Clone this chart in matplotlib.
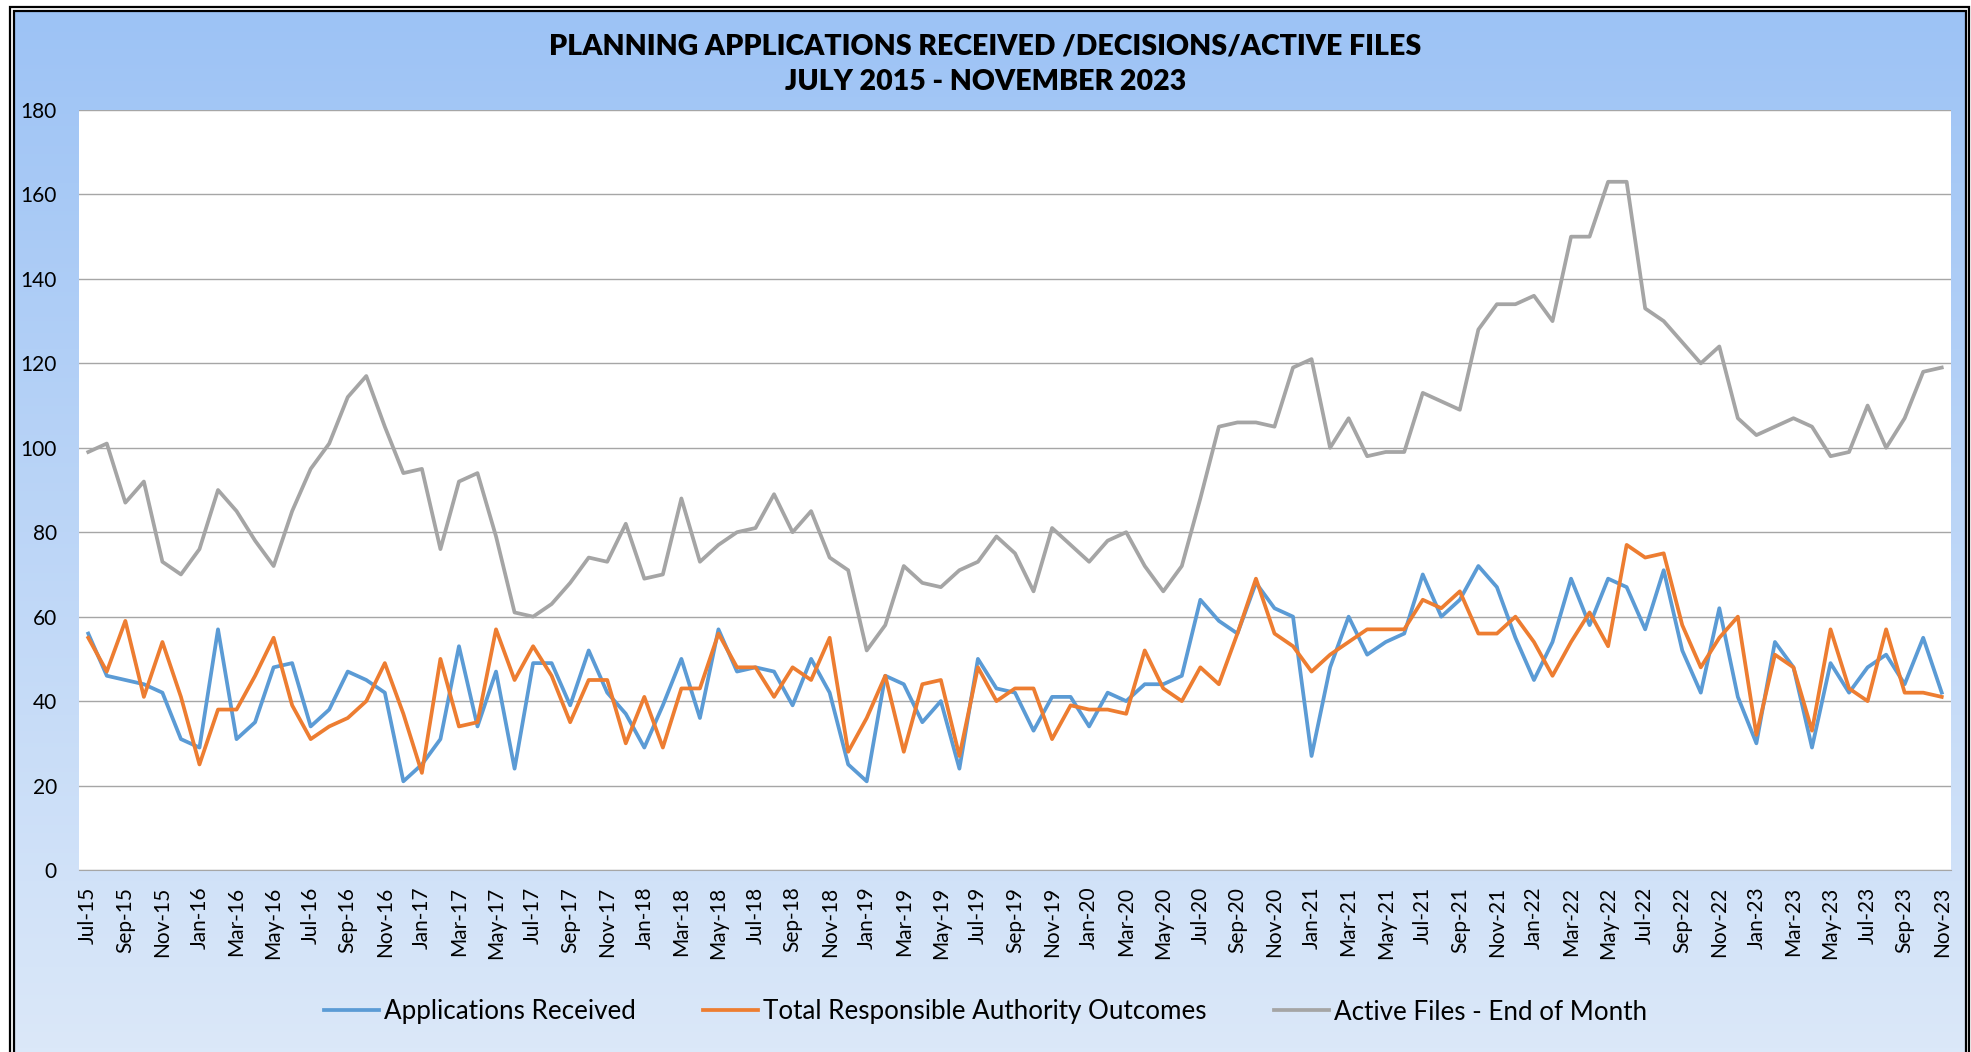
import numpy as np
import pandas as pd
import matplotlib
matplotlib.use('Agg')
import matplotlib.pyplot as plt
from matplotlib.patches import Rectangle
from matplotlib.colors import LinearSegmentedColormap

plt.rcParams['font.family'] = ['Lato', 'DejaVu Sans']

months = pd.date_range('2015-07-01', '2023-11-01', freq='MS')
month_labels = [m.strftime('%b-%y') for m in months]

applications = [56, 46, 45, 44, 42, 31, 29, 57, 31, 35, 48, 49, 34, 38, 47, 45,
                42, 21, 25, 31, 53, 34, 47, 24, 49, 49, 39, 52, 42, 37, 29, 39,
                50, 36, 57, 47, 48, 47, 39, 50, 42, 25, 21, 46, 44, 35, 40, 24,
                50, 43, 42, 33, 41, 41, 34, 42, 40, 44, 44, 46, 64, 59, 56, 68,
                62, 60, 27, 48, 60, 51, 54, 56, 70, 60, 64, 72, 67, 55, 45, 54,
                69, 58, 69, 67, 57, 71, 52, 42, 62, 41, 30, 54, 48, 29, 49, 42,
                48, 51, 44, 55, 42]
outcomes = [55, 47, 59, 41, 54, 41, 25, 38, 38, 46, 55, 39, 31, 34, 36, 40,
            49, 37, 23, 50, 34, 35, 57, 45, 53, 46, 35, 45, 45, 30, 41, 29,
            43, 43, 56, 48, 48, 41, 48, 45, 55, 28, 36, 46, 28, 44, 45, 27,
            48, 40, 43, 43, 31, 39, 38, 38, 37, 52, 43, 40, 48, 44, 56, 69,
            56, 53, 47, 51, 54, 57, 57, 57, 64, 62, 66, 56, 56, 60, 54, 46,
            54, 61, 53, 77, 74, 75, 58, 48, 55, 60, 32, 51, 48, 33, 57, 43,
            40, 57, 42, 42, 41]
active_files = [99, 101, 87, 92, 73, 70, 76, 90, 85, 78, 72, 85, 95, 101, 112, 117,
                105, 94, 95, 76, 92, 94, 79, 61, 60, 63, 68, 74, 73, 82, 69, 70,
                88, 73, 77, 80, 81, 89, 80, 85, 74, 71, 52, 58, 72, 68, 67, 71,
                73, 79, 75, 66, 81, 77, 73, 78, 80, 72, 66, 72, 88, 105, 106, 106,
                105, 119, 121, 100, 107, 98, 99, 99, 113, 111, 109, 128, 134, 134, 136, 130,
                150, 150, 163, 163, 133, 130, 125, 120, 124, 107, 103, 105, 107, 105, 98, 99,
                110, 100, 107, 118, 119]

W, H = 1971, 1052
fig = plt.figure(figsize=(W / 100, H / 100), dpi=100)

# gradient background inside the double border
bg = fig.add_axes([0, 0, 1, 1], zorder=0)
cmap = LinearSegmentedColormap.from_list('bg', ['#dbe8f9', '#9dc3f5'])
grad = np.linspace(0, 1, 256).reshape(-1, 1)
bg.imshow(grad, aspect='auto', cmap=cmap, origin='lower',
          extent=[15 / W, 1966 / W, 0, 1 - 12 / H])
bg.set_xlim(0, 1)
bg.set_ylim(0, 1)
bg.axis('off')
for x0, x1, yt in [(10, 1969, 7), (14, 1966, 11)]:
    bg.add_patch(Rectangle((x0 / W, -0.02), (x1 - x0) / W, 1 - yt / H + 0.02,
                           fill=False, edgecolor='black', lw=1.6))

ax = fig.add_axes([79 / W, 1 - 870 / H, (1951 - 79) / W, (870 - 110) / H], zorder=1)
ax.set_facecolor('white')

x = np.arange(len(months))
ax.plot(x, applications, color='#5b9bd5', lw=2.7, label='Applications Received')
ax.plot(x, outcomes, color='#ed7d31', lw=2.7, label='Total Responsible Authority Outcomes')
ax.plot(x, active_files, color='#a5a5a5', lw=2.7, label='Active Files - End of Month')

ax.set_xlim(-0.5, len(months) - 0.5)
ax.set_ylim(0, 180)
ax.set_yticks(range(0, 181, 20))
ax.yaxis.grid(True, color='#a6a6a6', lw=1)
ax.set_axisbelow(True)
ax.set_xticks(x[::2])
ax.set_xticklabels(month_labels[::2], rotation=90, fontsize=15)
ax.tick_params(axis='x', length=0, pad=12)
ax.tick_params(axis='y', length=0, pad=16, labelsize=15)
for s in ['top', 'left', 'right']:
    ax.spines[s].set_visible(False)
ax.spines['bottom'].set_color('#a6a6a6')

fig.text(0.5, 1 - 47 / H, 'PLANNING APPLICATIONS RECEIVED /DECISIONS/ACTIVE FILES',
         ha='center', va='center', fontsize=20.5, fontweight='heavy')
fig.text(0.5, 1 - 82 / H, 'JULY 2015 - NOVEMBER 2023',
         ha='center', va='center', fontsize=20.5, fontweight='heavy')

fig.legend(loc='center', bbox_to_anchor=(0.5, 1 - 1012 / H), ncol=3, frameon=False,
           fontsize=18.7, handlelength=2.1, handletextpad=0.2, columnspacing=2.6)

fig.savefig('out.png', dpi=100)
